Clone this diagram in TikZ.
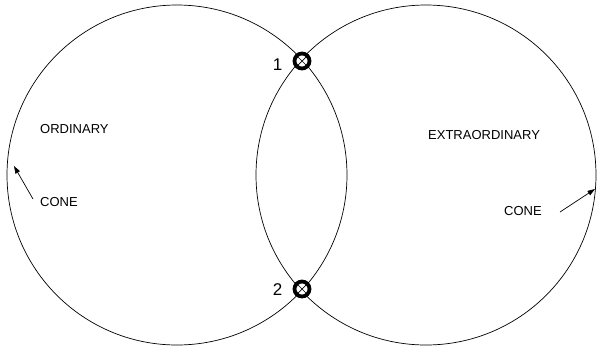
\documentclass[tikz,border=0pt]{standalone}
\usepackage{fontspec}
\setmainfont{Liberation Sans}
\usetikzlibrary{
  positioning,
  arrows.meta              % filled arrowheads
}

\begin{document}
\begin{tikzpicture}[
    x=1pt, y=-1pt,
    font=\fontsize{13}{15}\selectfont,
    >={Triangle[length=7.5pt, width=5pt]},
    every node/.style={align=center},
    cone/.style={circle, draw, line width=0.7pt, minimum size=340pt, inner sep=0pt},
    crossing/.style={circle, draw, line width=3.8pt, minimum size=15pt, inner sep=0pt,
                     fill=white,
                     path picture={\draw[line width=0.7pt]
                       (path picture bounding box.north west) -- (path picture bounding box.south east)
                       (path picture bounding box.north east) -- (path picture bounding box.south west);}},
    label/.style={inner sep=0pt},
    number/.style={inner sep=0pt, font=\fontsize{17}{19}\selectfont}
]
  \useasboundingbox (0,0) rectangle (597,349);

  % two cones
  \node[cone] (ord)   at (177,175) {};
  \node[cone] (extra) at (426,175) {};

  % crossings of the cones
  \node[crossing] (p1) at (302,61)  {};
  \node[crossing] (p2) at (302,289) {};
  \node[number, left=10pt of p1, yshift=-4pt] (n1) {1};
  \node[number, left=10pt of p2, yshift=-1pt] (n2) {2};

  \node[label, anchor=west] (ordtxt)   at (40,129) {ORDINARY};
  \node[label, anchor=west] (extratxt) at (428,135) {EXTRAORDINARY};
  \node[label, anchor=west] (ordcone)   at (40,202) {CONE};
  \node[label, anchor=west] (extracone) at (504,211) {CONE};

  \coordinate (ordtail)   at (33,199);
  \coordinate (ordtip)    at (14,166);
  \coordinate (extratail) at (560,212);
  \coordinate (extratip)  at (595,189);

  \draw[->, line width=0.7pt] (ordtail) -- (ordtip);
  \draw[->, line width=0.7pt] (extratail) -- (extratip);
\end{tikzpicture}
\end{document}
